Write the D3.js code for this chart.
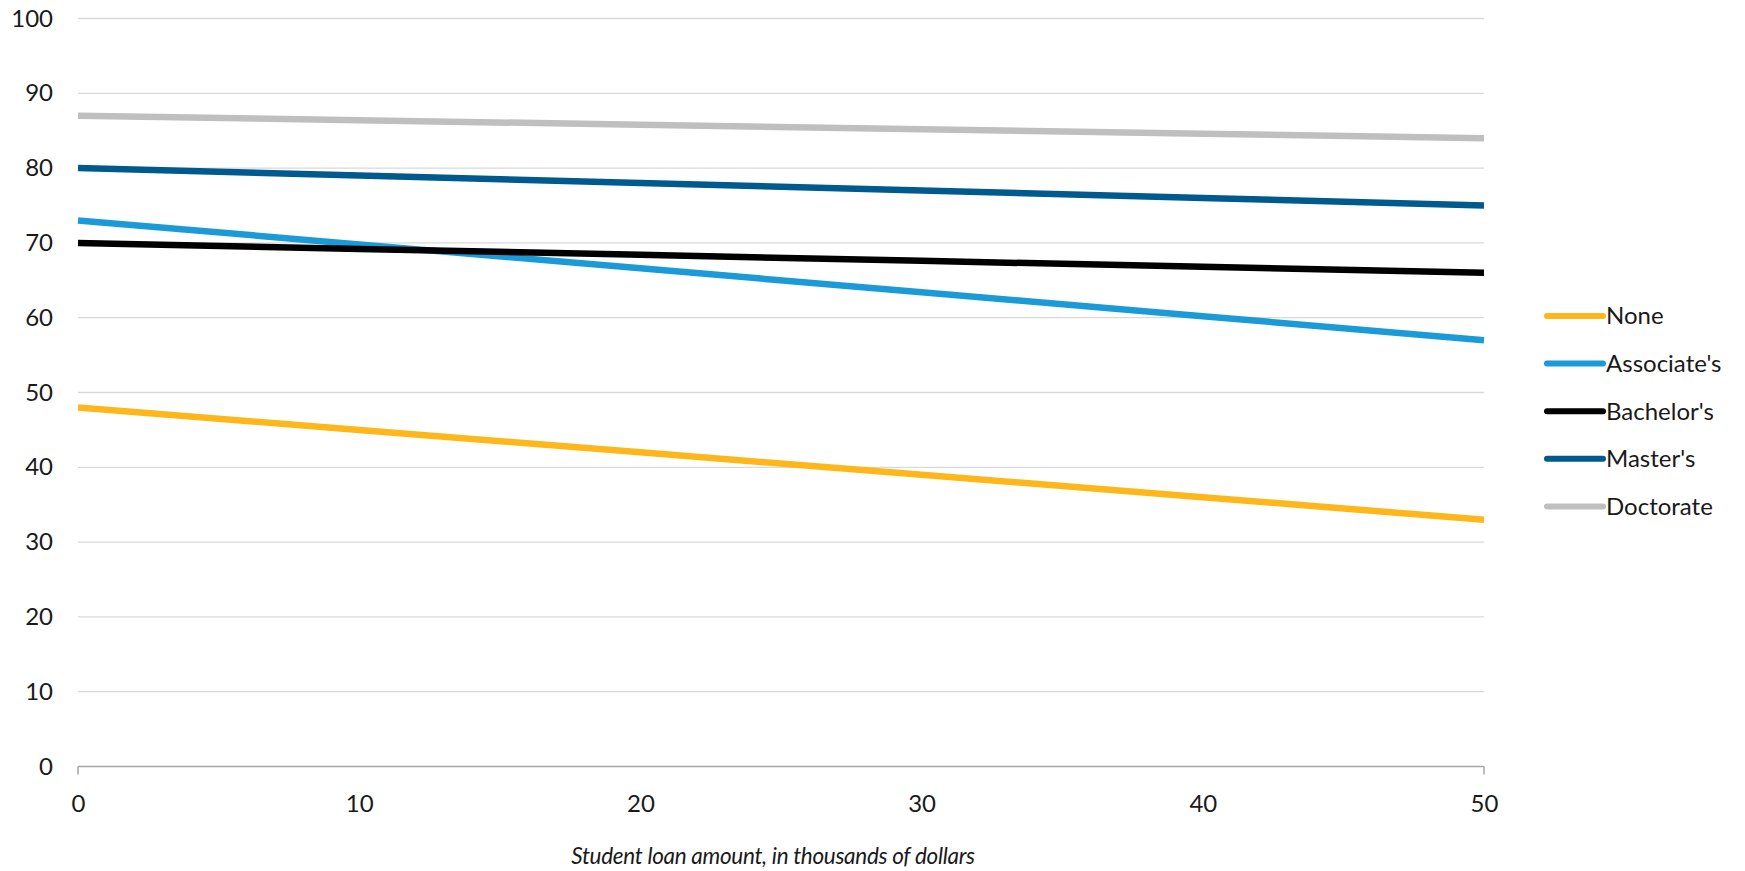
<!DOCTYPE html>
<html>
<head>
<meta charset="utf-8">
<script src="https://cdn.jsdelivr.net/npm/d3@7"></script>
<style>
  html, body { margin: 0; padding: 0; background: #fff; }
  svg { display: block; }
  text { font-family: Lato, "Open Sans", sans-serif; fill: #1a1a1a; }
</style>
</head>
<body>
<svg id="chart" width="1745" height="871"></svg>
<script>
// Loan amount (thousands of dollars)
const loanAmounts = [0, 10, 20, 30, 40, 50];

// Predicted value by highest degree
const noneValues       = [48, 45, 42, 39, 36, 33];
const associateValues  = [73, 69.8, 66.6, 63.4, 60.2, 57];
const bachelorValues   = [70, 69.2, 68.4, 67.6, 66.8, 66];
const masterValues     = [80, 79, 78, 77, 76, 75];
const doctorateValues  = [87, 86.4, 85.8, 85.2, 84.6, 84];

const seriesNames  = ["None", "Associate's", "Bachelor's", "Master's", "Doctorate"];
const seriesColors = ["#FDB71A", "#1B9AD8", "#000000", "#005A8E", "#BFBFBF"];
const seriesValues = [noneValues, associateValues, bachelorValues, masterValues, doctorateValues];

const yTicks = [0, 10, 20, 30, 40, 50, 60, 70, 80, 90, 100];
const xTicks = [0, 10, 20, 30, 40, 50];
const xTitle = "Student loan amount, in thousands of dollars";

const svg = d3.select("#chart");
const plot = { left: 78, right: 1484, top: 18.5, bottom: 766.5 };

const x = d3.scaleLinear().domain([0, 50]).range([plot.left, plot.right]);
const y = d3.scaleLinear().domain([0, 100]).range([plot.bottom, plot.top]);

// Horizontal gridlines
svg.append("g")
  .selectAll("line")
  .data(yTicks.filter(d => d > 0))
  .join("line")
  .attr("x1", plot.left).attr("x2", plot.right)
  .attr("y1", d => y(d)).attr("y2", d => y(d))
  .attr("stroke", "#d9d9d9").attr("stroke-width", 1.3);

// Y axis labels
const yAxis = svg.append("g")
  .attr("transform", `translate(${plot.left},0)`)
  .call(d3.axisLeft(y).tickValues(yTicks).tickSize(0).tickPadding(25));
yAxis.select(".domain").remove();
yAxis.selectAll("text")
  .style("font-family", "Lato, sans-serif")
  .style("font-size", "24px")
  .attr("fill", "#1a1a1a");

// X axis baseline with end ticks
const xAxis = svg.append("g")
  .attr("transform", `translate(0,${plot.bottom})`)
  .call(d3.axisBottom(x).tickValues(xTicks).tickSize(0).tickPadding(28));
xAxis.select(".domain")
  .attr("stroke", "#a6a6a6").attr("stroke-width", 1.5)
  .attr("d", `M${plot.left},0H${plot.right}`);
xAxis.selectAll("text")
  .style("font-family", "Lato, sans-serif")
  .style("font-size", "24px")
  .attr("fill", "#1a1a1a");
xAxis.selectAll(".endtick")
  .data([0, 50])
  .join("line")
  .attr("class", "endtick")
  .attr("x1", d => x(d)).attr("x2", d => x(d))
  .attr("y1", 0).attr("y2", 8)
  .attr("stroke", "#a6a6a6").attr("stroke-width", 1.5);

// Series lines
const line = d3.line()
  .x((d, i) => x(loanAmounts[i]))
  .y(d => y(d));

svg.append("g")
  .selectAll("path")
  .data(seriesValues)
  .join("path")
  .attr("d", d => line(d))
  .attr("fill", "none")
  .attr("stroke", (d, i) => seriesColors[i])
  .attr("stroke-width", 6.5)
  .attr("stroke-linejoin", "round");

// Legend
const legend = svg.append("g").attr("transform", "translate(1547,316)");
const item = legend.selectAll("g")
  .data(seriesNames)
  .join("g")
  .attr("transform", (d, i) => `translate(0,${i * 47.6})`);
item.append("line")
  .attr("x1", 0).attr("x2", 56).attr("y1", 0).attr("y2", 0)
  .attr("stroke", (d, i) => seriesColors[i])
  .attr("stroke-width", 6)
  .attr("stroke-linecap", "round");
item.append("text")
  .attr("x", 59).attr("y", 0).attr("dy", "0.35em")
  .style("font-size", "24px")
  .text(d => d);

// X axis title
svg.append("text")
  .attr("x", (plot.left + plot.right) / 2 - 8)
  .attr("y", 864)
  .attr("text-anchor", "middle")
  .style("font-size", "22.5px")
  .style("font-style", "italic")
  .style("letter-spacing", "-0.3px")
  .text(xTitle);
</script>
</body>
</html>
